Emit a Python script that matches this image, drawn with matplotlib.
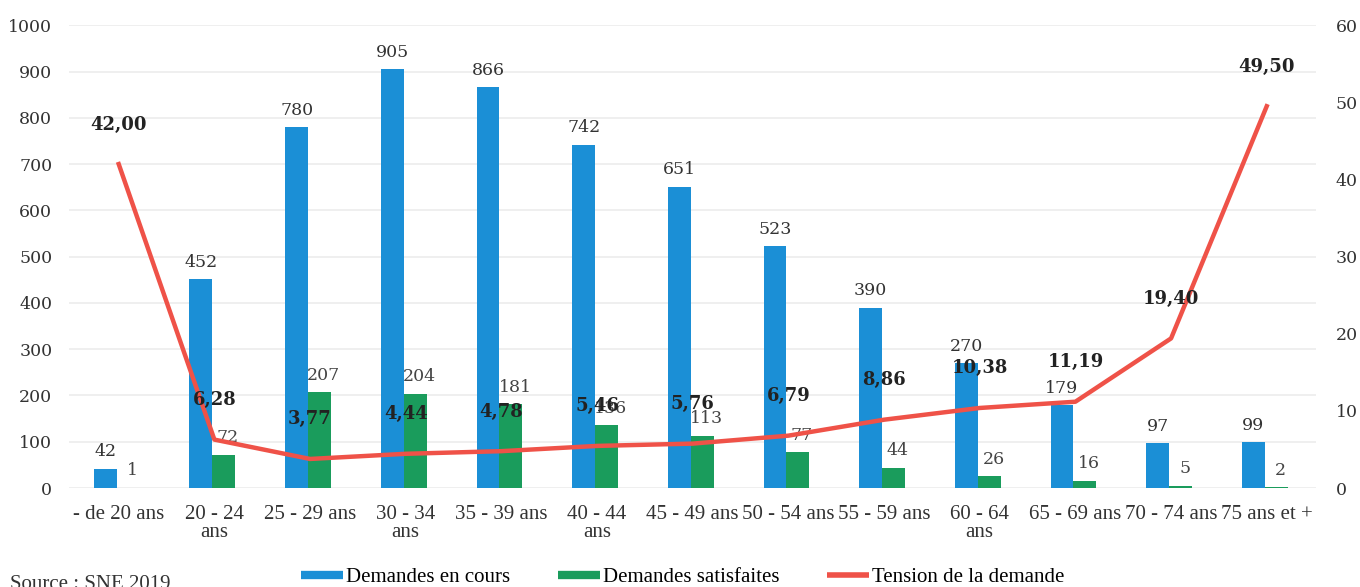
import matplotlib
matplotlib.use("Agg")
import matplotlib.pyplot as plt
from matplotlib.lines import Line2D
import numpy as np

categories = ["- de 20 ans", "20 - 24\nans", "25 - 29 ans", "30 - 34\nans", "35 - 39 ans",
              "40 - 44\nans", "45 - 49 ans", "50 - 54 ans", "55 - 59 ans", "60 - 64\nans",
              "65 - 69 ans", "70 - 74 ans", "75 ans et +"]
en_cours = [42, 452, 780, 905, 866, 742, 651, 523, 390, 270, 179, 97, 99]
satisfaites = [1, 72, 207, 204, 181, 136, 113, 77, 44, 26, 16, 5, 2]
tension = [42.00, 6.28, 3.77, 4.44, 4.78, 5.46, 5.76, 6.79, 8.86, 10.38, 11.19, 19.40, 49.50]
left_ticks = list(range(0, 1001, 100))
right_ticks = list(range(0, 61, 10))

BLUE = "#1b8fd6"
GREEN = "#1a9c5c"
RED = "#ef5248"
TXT = "#333333"

fig = plt.figure(figsize=(13.6, 5.87), dpi=100)
ax = fig.add_axes([0.0507, 0.1686, 0.9173, 0.7884])
ax2 = ax.twinx()

x = np.arange(len(categories))
w = 0.24
ax.bar(x - w / 2 - 0.02, en_cours, width=w, color=BLUE, zorder=2)
ax.bar(x + w / 2 - 0.02, satisfaites, width=w, color=GREEN, zorder=2)

ax.set_xlim(-0.52, 12.52)
ax.set_ylim(0, 1000)
ax.set_yticks(left_ticks)
ax2.set_ylim(0, 60)
ax2.set_yticks(right_ticks)

for a in (ax, ax2):
    for s in a.spines.values():
        s.set_visible(False)
    a.tick_params(length=0)

ax.grid(axis="y", color="#ececec", linewidth=1.2, zorder=0)
ax.set_axisbelow(True)

num_font = dict(family="DejaVu Serif", size=12.5, color=TXT)
ax.set_yticklabels([str(t) for t in left_ticks], fontdict=num_font)
ax2.set_yticklabels([str(t) for t in right_ticks], fontdict=num_font)
ax.tick_params(axis="y", pad=12)
ax2.tick_params(axis="y", pad=14)

ax.set_xticks(x)
ax.set_xticklabels(categories, family="Liberation Serif", size=15, color=TXT,
                   linespacing=0.95)
ax.tick_params(axis="x", pad=12)

ax2.plot(x, tension, color=RED, linewidth=3.2, zorder=3, solid_joinstyle="round")

for xi, v in zip(x, en_cours):
    ax.annotate(str(v), (xi - w / 2 - 0.02, v), xytext=(0, 6), textcoords="offset points",
                ha="center", va="bottom", family="DejaVu Serif", size=12.5, color=TXT)
for xi, v in zip(x, satisfaites):
    ax.annotate(str(v), (xi + w / 2 - 0.02, v), xytext=(3, 6), textcoords="offset points",
                ha="center", va="bottom", family="DejaVu Serif", size=12.5, color="#444444",
                zorder=4)
for xi, v in zip(x, tension):
    lbl = f"{v:.2f}".replace(".", ",")
    ax2.annotate(lbl, (xi, v), xytext=(0, 22), textcoords="offset points",
                 ha="center", va="bottom", family="DejaVu Serif", weight="bold",
                 size=13, color="#222222", zorder=5)

handles = [Line2D([], [], color=BLUE, lw=6, solid_capstyle="butt"),
           Line2D([], [], color=GREEN, lw=6, solid_capstyle="butt"),
           Line2D([], [], color=RED, lw=4, solid_capstyle="butt")]
labels = ["Demandes en cours", "Demandes satisfaites", "Tension de la demande"]
fig.legend(handles, labels, loc="center", bbox_to_anchor=(0.502, 0.016), ncol=3,
           frameon=False, handlelength=2.0, handletextpad=0.15, columnspacing=2.3,
           prop=dict(family="Liberation Serif", size=15))

fig.text(0.007, 0.004, "Source : SNE 2019", family="Liberation Serif", size=15,
         color=TXT, ha="left", va="center")

fig.savefig("out.png", dpi=100)
